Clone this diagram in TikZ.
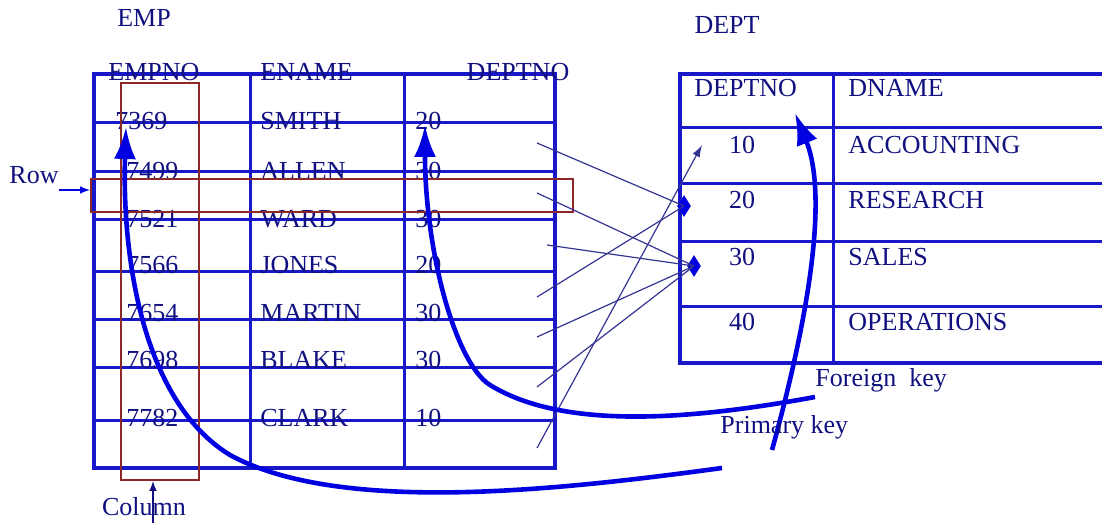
\documentclass[tikz,border=0pt]{standalone}
\usepackage{fontspec}
\setmainfont{Liberation Serif}
\usepackage{tikz}
\usetikzlibrary{arrows, arrows.meta, shapes.geometric, calc, fit, positioning}

\definecolor{navy}{RGB}{16,16,128}
\definecolor{tblue}{RGB}{24,24,200}
\definecolor{kblue}{RGB}{0,0,225}
\definecolor{boxred}{RGB}{140,40,40}

\begin{document}
\begin{tikzpicture}[>=latex, x=0.5pt, y=-0.5pt,
    txt/.style={text=navy, font=\fontsize{13}{15}\selectfont, inner sep=0pt},
    grid/.style={draw=tblue, line width=1.5pt},
    thinline/.style={draw=navy!85, line width=0.6pt},
    keyarrow/.style={-{Latex[length=16pt,width=11pt]}, draw=kblue, line width=2.3pt},
    markbox/.style={draw=boxred, line width=1pt, inner sep=0pt},
    dmark/.style={diamond, fill=kblue, inner sep=0pt, minimum width=7pt, minimum height=11pt}]
\useasboundingbox (0,0) rectangle (1102,523);

% EMP table
\node[txt] (emp) at (144,18) {EMP};
\foreach \y in {74,123,172,220,272,320,368,420,468}
    \draw[grid] (94,\y) -- (555,\y);
\foreach \x in {94,250,404,555}
    \draw[grid] (\x,74) -- (\x,468);
\draw[grid, line width=2pt] (94,74) rectangle (555,468);

\node[txt] (h-empno) at (154,72) {EMPNO};
\node[txt, anchor=west] (h-ename) at (260,72) {ENAME};
\node[txt] (h-deptno) at (518,72) {DEPTNO};

\foreach \y/\xx/\no/\nm/\dp [count=\i] in {121/115/7369/SMITH/20, 171/126/7499/ALLEN/30,
    219/126/7521/WARD/30, 265/126/7566/JONES/20, 313/126/7654/MARTIN/30,
    360/126/7698/BLAKE/30, 418/126/7782/CLARK/10} {
    \node[txt, anchor=west] (no\i) at (\xx,\y) {\no};
    \node[txt, anchor=west] (nm\i) at (260,\y) {\nm};
    \node[txt, anchor=west] (dp\i) at (415,\y) {\dp};
};

% DEPT table
\node[txt] (dept) at (727,25) {DEPT};
\foreach \y in {74,128,184,242,307,363}
    \draw[grid] (680,\y) -- (1102,\y);
\foreach \x in {680,833}
    \draw[grid] (\x,74) -- (\x,363);
\draw[grid, line width=2pt] (1102,74) -- (680,74) -- (680,363) -- (1102,363);

\node[txt, anchor=west] (h-dno) at (694,88) {DEPTNO};
\node[txt, anchor=west] (h-dname) at (848,88) {DNAME};
\foreach \y/\dn/\dname [count=\i] in {145/10/ACCOUNTING, 200/20/RESEARCH,
    257/30/SALES, 322/40/OPERATIONS} {
    \node[txt] (dn\i) at (742,\y) {\dn};
    \node[txt, anchor=west] (dname\i) at (848,\y) {\dname};
};

% row and column marks
\node[markbox, fit={(91,179) (573,212)}] (rowbox) {};
\node[markbox, fit={(121,83) (199,480)}] (colbox) {};
\node[txt] (rowlbl) at (34,175) {Row};
\node[txt] (collbl) at (144,507) {Column};
\draw[->, draw=kblue, line width=0.7pt] (rowlbl.east |- 0,190) -- (rowbox.west |- 0,190);
\coordinate (coltail) at (153,523);
\draw[->, draw=navy, line width=0.7pt] (coltail) -- (coltail |- colbox.south);

% links from EMP.DEPTNO to DEPT.DEPTNO
\node[dmark] (d20) at (684,206) {};
\node[dmark] (d30) at (694,266) {};
\coordinate (t10) at (702,145);
\foreach \n/\x/\y in {1/537/143, 2/537/193, 3/547/245, 4/537/297, 5/537/337, 6/537/387, 7/537/448}
    \coordinate (s\n) at (\x,\y);
\draw[thinline] (s1) -- (d20.center);
\draw[thinline] (s4) -- (d20.center);
\foreach \n in {2,3,5,6}
    \draw[thinline] (s\n) -- (d30.center);
\draw[thinline, -{Latex[length=6pt,width=4pt]}] (s7) -- (t10);

% key arrows
\coordinate (pk-emp) at (722,468);
\coordinate (pk-dept) at (772,450);
\coordinate (fk-emp) at (815,397);
\coordinate (tip-no) at (126,127);
\coordinate (tip-dp) at (425,125);
\coordinate (tip-dn) at (795,113);
\draw[keyarrow] (pk-emp) .. controls (560,490) and (340,515) .. (230,455)
    .. controls (140,400) and (122,250) .. (tip-no);
\draw[keyarrow] (fk-emp) .. controls (680,422) and (560,428) .. (490,385)
    .. controls (455,363) and (425,250) .. (tip-dp);
\draw[keyarrow] (pk-dept) .. controls (805,330) and (830,200) .. (tip-dn);

\node[txt, anchor=west] (fklbl) at (815,380) {Foreign\ \ key};
\node[txt, anchor=west] (pklbl) at (720,427) {Primary key};

\end{tikzpicture}
\end{document}
